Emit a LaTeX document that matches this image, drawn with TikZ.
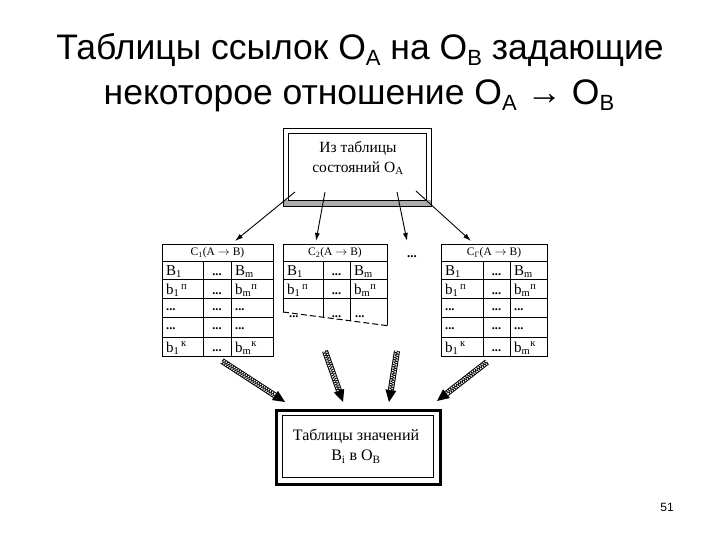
\documentclass[tikz,border=0pt]{standalone}
\usepackage{fontspec}
\setmainfont{Liberation Serif}
\newfontfamily\titlefont{Liberation Sans}
\usetikzlibrary{arrows.meta,decorations.pathmorphing,calc}
\newcommand\tsub[1]{\raisebox{-5.5pt}{\fontsize{22}{22}\selectfont #1}}
\newcommand\mktable[6]{%
  \node[tbl, minimum width={#5-#2}, minimum height=112] (#1) at (#2,244) {};
  \foreach \yy in {261,279,298,317,337} \draw[grid] (#2,\yy) -- (#5,\yy);
  \draw[grid] (#3,261) -- (#3,356);
  \draw[grid] (#4,261) -- (#4,356);
  \node[hdr] (#1-h) at ({(#2+#5)/2},252.5) {C\textsubscript{#6}(A $\rightarrow$ B)};
  \node[cell] (#1-11) at (#2+4,275.5) {B\textsubscript{1}};
  \node[dots] (#1-12) at ({(#3+#4)/2},275) {...};
  \node[cell] (#1-13) at (#4+4,275.5) {B\textsubscript{m}};
  \node[cell] (#1-21) at (#2+4,294.5) {b\textsubscript{1}\textsuperscript{\,п}};
  \node[dots] (#1-22) at ({(#3+#4)/2},294) {...};
  \node[cell] (#1-23) at (#4+4,294.5) {b\textsubscript{m}\textsuperscript{п}};
  \node[ldots] (#1-31) at (#2+4,310) {...};
  \node[dots] (#1-32) at ({(#3+#4)/2},310) {...};
  \node[ldots] (#1-33) at (#4+4,310) {...};
  \node[ldots] (#1-41) at (#2+4,329.5) {...};
  \node[dots] (#1-42) at ({(#3+#4)/2},329.5) {...};
  \node[ldots] (#1-43) at (#4+4,329.5) {...};
  \node[cell] (#1-51) at (#2+4,352) {b\textsubscript{1}\textsuperscript{\,к}};
  \node[dots] (#1-52) at ({(#3+#4)/2},351.5) {...};
  \node[cell] (#1-53) at (#4+4,352) {b\textsubscript{m}\textsuperscript{к}};
}
\begin{document}
\begin{tikzpicture}[x=1pt,y=-1pt,
  cell/.style={anchor=base west, inner sep=0pt, font=\fontsize{15}{15}\selectfont},
  dots/.style={anchor=base, inner sep=0pt, font=\fontsize{12.5}{12}\selectfont\bfseries},
  ldots/.style={anchor=base west, inner sep=0pt, font=\fontsize{12.5}{12}\selectfont\bfseries},
  hdr/.style={anchor=center, inner sep=0pt, font=\fontsize{11.5}{12}\selectfont},
  grid/.style={line width=0.8pt},
  tbl/.style={draw, line width=0.9pt, inner sep=0pt, anchor=north west},
  thinarrow/.style={-{Latex[length=8pt,width=5pt]}, line width=0.9pt},
  boxtext/.style={align=center, inner sep=0pt, font=\fontsize{15.5}{19.5}\selectfont},
  ]
\useasboundingbox (0,0) rectangle (720,540);
% title
\node[font=\titlefont\fontsize{35.5}{36}\selectfont, anchor=base, inner sep=0pt] (title1) at (360,60)
  {Таблицы ссылок O\tsub{A} на O\tsub{B} задающие};
\node[font=\titlefont\fontsize{35.5}{36}\selectfont, anchor=base, inner sep=0pt] (title2) at (359,105)
  {некоторое отношение O\tsub{A} → O\tsub{B}};
% source box
\fill[gray!65] (283,200) rectangle (431,206);
\node[draw, line width=0.9pt, minimum width=148, minimum height=78, anchor=north west] (src) at (283,128) {};
\node[draw, line width=0.9pt, minimum width=138, minimum height=67, anchor=north west] (srcin) at (288,133) {};
\node[boxtext] (srctxt) at (358,158) {Из таблицы\\состояний O\textsubscript{A}};
% tables
\mktable{tA}{162}{203}{231}{273}{1}
\mktable{tC}{441}{483}{510}{547}{Г}
% truncated table 2
\begin{scope}
\clip (280,240) -- (392,240) -- (392,326) -- (280,312) -- cycle;
\draw[grid] (283,244) -- (387,244);
\draw[grid] (283,244) -- (283,330);
\draw[grid] (387,244) -- (387,330);
\foreach \yy in {261,279,298} \draw[grid] (283,\yy) -- (387,\yy);
\draw[grid] (323,261) -- (323,330);
\draw[grid] (350,261) -- (350,330);
\end{scope}
\coordinate (tB) at (283,244);
\node[hdr] (tB-h) at (335,252.5) {C\textsubscript{2}(A $\rightarrow$ B)};
\node[cell] (tB-11) at (287,275.5) {B\textsubscript{1}};
\node[dots] (tB-12) at (336.5,275) {...};
\node[cell] (tB-13) at (354,275.5) {B\textsubscript{m}};
\node[cell] (tB-21) at (287,294.5) {b\textsubscript{1}\textsuperscript{\,п}};
\node[dots] (tB-22) at (336.5,294) {...};
\node[cell] (tB-23) at (354,294.5) {b\textsubscript{m}\textsuperscript{п}};
\node[ldots] (tB-31) at (289,317) {...};
\node[dots] (tB-32) at (336.5,317) {...};
\node[ldots] (tB-33) at (355,317) {...};
\draw[line width=1pt, dash pattern=on 6pt off 3pt] (283,312) -- (390,326);
\node[font=\fontsize{13}{13}\selectfont\bfseries, inner sep=0pt] (gap) at (412,257) {...};
% arrows from source
\coordinate (a1s) at (295,192); \coordinate (a1e) at (235,241);
\coordinate (a2s) at (325,192); \coordinate (a2e) at (316,241);
\coordinate (a3s) at (397,192); \coordinate (a3e) at (407,241);
\coordinate (a4s) at (416,191); \coordinate (a4e) at (471,241);
\foreach \i in {1,...,4} \draw[thinarrow] (a\i s) -- (a\i e);
% destination box
\node[draw, line width=2.5pt, minimum width=164, minimum height=74, anchor=north west] (dst) at (275,409) {};
\node[draw, line width=0.8pt, minimum width=151, minimum height=62, anchor=north west] (dstin) at (281.5,415) {};
\node[boxtext, font=\fontsize{16}{20}\selectfont] (dsttxt) at (356,446) {Таблицы значений\\B\textsubscript{i} в O\textsubscript{B}};
% hatched arrows
\coordinate (h1s) at (222,361); \coordinate (h1e) at (285,402);
\coordinate (h2s) at (325,351); \coordinate (h2e) at (343,402);
\coordinate (h3s) at (397,351); \coordinate (h3e) at (389,402);
\coordinate (h4s) at (487,362); \coordinate (h4e) at (437,401);
\foreach \i in {1,...,4} {
  \coordinate (h\i m) at ($(h\i e)!12pt!(h\i s)$);
  \draw[line width=6pt] (h\i s) -- (h\i m);
  \draw[line width=4pt, white] (h\i s) -- (h\i m);
  \draw[line width=0.6pt, decorate, decoration={zigzag, amplitude=1.9pt, segment length=2.4pt}] (h\i s) -- (h\i m);
  \fill ($(h\i m)!5.5pt!90:(h\i e)$) -- (h\i e) -- ($(h\i m)!5.5pt!-90:(h\i e)$) -- cycle;
}
% page number
\node[font=\titlefont\fontsize{12}{12}\selectfont, inner sep=0pt] (pg) at (667,507) {51};
\end{tikzpicture}
\end{document}
